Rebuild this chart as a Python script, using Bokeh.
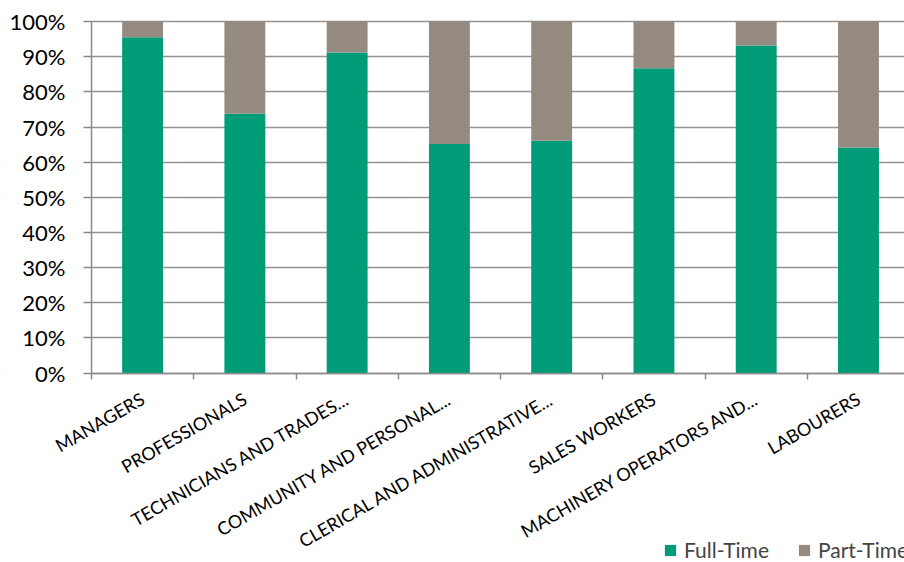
import math
from bokeh.plotting import figure
from bokeh.models import (ColumnDataSource, FixedTicker, Range1d, Legend, LegendItem,
                          NumeralTickFormatter, LinearAxis, BoxAnnotation)
from bokeh.embed import file_html
from bokeh.resources import INLINE

categories = ["MANAGERS", "PROFESSIONALS", "TECHNICIANS AND TRADES...",
              "COMMUNITY AND PERSONAL...", "CLERICAL AND ADMINISTRATIVE...",
              "SALES WORKERS", "MACHINERY OPERATORS AND...", "LABOURERS"]
full_time = [0.955, 0.738, 0.912, 0.652, 0.661, 0.867, 0.932, 0.642]
part_time = [1 - v for v in full_time]
series_names = ["Full-Time", "Part-Time"]
y_ticks = [i / 10 for i in range(11)]

GREEN = "#009B77"
GREY = "#948A80"
FONT = "Lato"
AXIS_GREY = "#8a8a8a"

xs = [i + 0.5 for i in range(len(categories))]
src = ColumnDataSource(dict(x=xs, ft=full_time, pt=part_time,
                            top_pt=[a + b for a, b in zip(full_time, part_time)]))

# frame covers the whole canvas; the value area (x 0..8, y 0..1) sits inside it
p = figure(width=904, height=562, output_backend="svg", toolbar_location=None,
           x_range=Range1d(-0.8895, 7.95), y_range=Range1d(-0.5385, 1.0598),
           x_axis_location=None, y_axis_location=None,
           min_border_left=0, min_border_top=0, min_border_right=0,
           min_border_bottom=0)
p.outline_line_color = None
p.background_fill_color = "white"

p.xgrid.grid_line_color = None
p.ygrid.ticker = FixedTicker(ticks=y_ticks)
p.ygrid.grid_line_color = "#939393"
p.ygrid.grid_line_width = 1.5

# white mask so the gridlines start at the value axis
mask = BoxAnnotation(left=-5, right=0, fill_color="white", fill_alpha=1.0,
                     line_color=None, level="underlay")
p.add_layout(mask)

r1 = p.vbar(x="x", bottom=0, top="ft", width=0.4, source=src,
            fill_color=GREEN, line_color=None)
r2 = p.vbar(x="x", bottom="ft", top="top_pt", width=0.4, source=src,
            fill_color=GREY, line_color=None)

# y axis at x = 0
yax = LinearAxis(ticker=FixedTicker(ticks=y_ticks),
                 formatter=NumeralTickFormatter(format="0%"),
                 bounds=(0, 1), fixed_location=0)
yax.major_label_text_font = FONT
yax.major_label_text_font_size = "22px"
yax.major_label_text_color = "#000000"
yax.major_tick_out = 8
yax.major_tick_in = 0
yax.minor_tick_line_color = None
yax.major_label_standoff = 18
yax.axis_line_color = AXIS_GREY
yax.axis_line_width = 1.5
yax.major_tick_line_color = AXIS_GREY
yax.major_tick_line_width = 1.5
p.add_layout(yax, "left")

# x axis at y = 0
xax = LinearAxis(ticker=FixedTicker(ticks=xs, minor_ticks=list(range(len(categories) + 1))),
                 bounds=(0, 7.95), fixed_location=0)
xax.major_label_overrides = {x: c for x, c in zip(xs, categories)}
xax.major_label_orientation = math.pi / 6
xax.major_label_text_font = FONT
xax.major_label_text_font_size = "18px"
xax.major_label_text_color = "#000000"
xax.major_tick_out = 0
xax.major_tick_in = 0
xax.minor_tick_out = 6
xax.minor_tick_in = 0
xax.minor_tick_line_color = AXIS_GREY
xax.minor_tick_line_width = 1.5
xax.major_label_standoff = 18
xax.axis_line_color = AXIS_GREY
xax.axis_line_width = 1.5
p.add_layout(xax, "below")

legend = Legend(items=[LegendItem(label=series_names[0], renderers=[r1]),
                       LegendItem(label=series_names[1], renderers=[r2])],
                orientation="horizontal", location=(663, 0),
                label_text_font=FONT, label_text_font_size="21px",
                glyph_width=14, glyph_height=14, spacing=28,
                border_line_color=None, background_fill_alpha=0,
                padding=0, margin=0, label_standoff=7)
p.add_layout(legend, "center")

open("out.html", "w").write(file_html(p, INLINE))
